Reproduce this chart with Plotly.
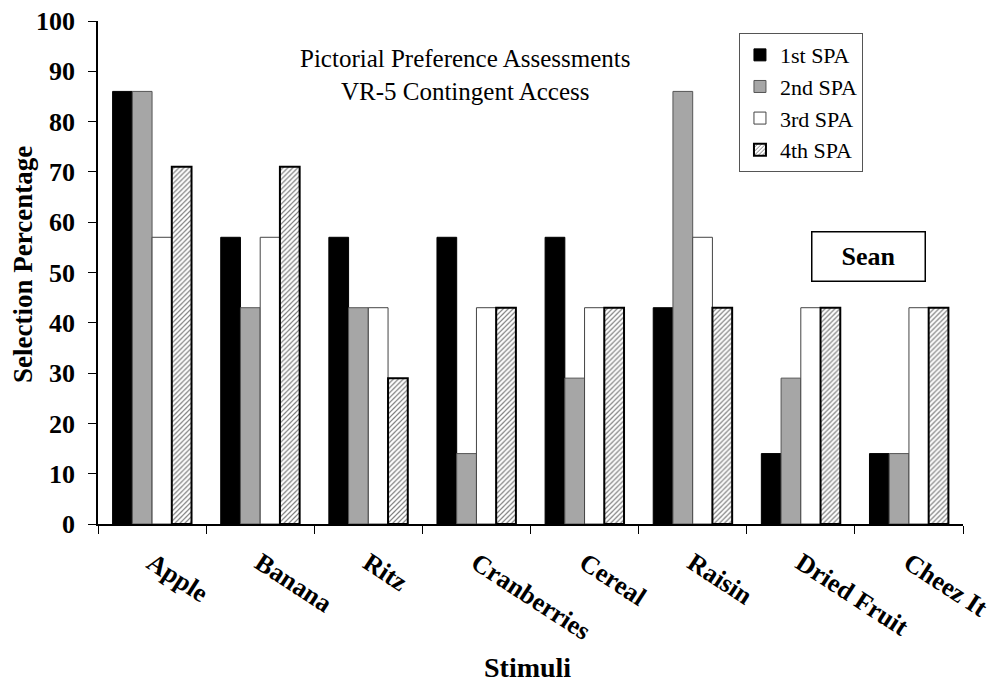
import plotly.graph_objects as go

categories = ["Apple", "Banana", "Ritz", "Cranberries", "Cereal", "Raisin", "Dried Fruit", "Cheez It"]
spa1 = [86, 57, 57, 57, 57, 43, 14, 14]
spa2 = [86, 43, 43, 14, 29, 86, 29, 14]
spa3 = [57, 57, 43, 43, 43, 57, 43, 43]
spa4 = [71, 71, 29, 43, 43, 43, 43, 43]
y_ticks = [0, 10, 20, 30, 40, 50, 60, 70, 80, 90, 100]

FONT = "Liberation Serif"

fig = go.Figure()
fig.add_trace(go.Bar(name="1st SPA", x=categories, y=spa1,
                     marker=dict(color="#000000", line=dict(color="#000000", width=1))))
fig.add_trace(go.Bar(name="2nd SPA", x=categories, y=spa2,
                     marker=dict(color="#a6a6a6", line=dict(color="#555555", width=1))))
fig.add_trace(go.Bar(name="3rd SPA", x=categories, y=spa3,
                     marker=dict(color="#ffffff", line=dict(color="#444444", width=1))))
fig.add_trace(go.Bar(name="4th SPA", x=categories, y=spa4,
                     marker=dict(color="#ffffff", line=dict(color="#000000", width=2),
                                 pattern=dict(shape="/", fgcolor="#000000", bgcolor="#ffffff",
                                              size=3.5, solidity=0.35))))

# page body has an 8px margin, so the figure is made 8px smaller and margins shifted
fig.update_layout(
    width=987, height=677,
    margin=dict(l=90, r=32, t=13, b=161, autoexpand=False),
    paper_bgcolor="white", plot_bgcolor="white",
    barmode="group", bargap=0.27, bargroupgap=0,
    font=dict(family=FONT, color="black"),
    showlegend=True,
    legend=dict(x=0.741, y=0.976, xanchor="left", yanchor="top",
                bordercolor="#555555", borderwidth=1, bgcolor="white",
                font=dict(family=FONT, size=22, color="black"),
                itemwidth=30),
    xaxis=dict(showline=True, linecolor="black", linewidth=1.5, automargin=False,
               ticks="outside", tickson="boundaries", ticklen=8, tickcolor="black",
               ticklabelstandoff=12, ticklabeloverflow="allow",
               tickangle=33, tickfont=dict(family=FONT, size=26, color="black", weight="bold"),
               showgrid=False, zeroline=False),
    yaxis=dict(range=[0, 100], tickvals=y_ticks, showline=True, linecolor="black", linewidth=1.5,
               automargin=False, ticks="outside", ticklen=8, tickcolor="black",
               ticklabelstandoff=8, ticklabeloverflow="allow",
               tickfont=dict(family=FONT, size=26, color="black", weight="bold"),
               showgrid=False, zeroline=False),
)

fig.add_annotation(text="Pictorial Preference Assessments<br>VR-5 Contingent Access",
                   xref="paper", yref="paper", x=0.424, y=0.893, xanchor="center", yanchor="middle",
                   showarrow=False, align="center", font=dict(family=FONT, size=25, color="black"))
fig.add_annotation(text="<b>Sean</b>", xref="paper", yref="paper", x=0.891, y=0.532,
                   xanchor="center", yanchor="middle",
                   showarrow=False, font=dict(family=FONT, size=26, color="black"),
                   bordercolor="black", borderwidth=1.5, borderpad=8, bgcolor="white",
                   width=96, height=32)
fig.add_annotation(text="<b>Selection Percentage</b>", xref="paper", yref="paper",
                   x=-0.0867, y=0.515, xanchor="center", yanchor="middle",
                   textangle=-90, showarrow=False,
                   font=dict(family=FONT, size=27, color="black"))
fig.add_annotation(text="<b>Stimuli</b>", xref="paper", yref="paper",
                   x=0.497, y=-0.286, showarrow=False, xanchor="center", yanchor="middle",
                   font=dict(family=FONT, size=28, color="black"))

fig.write_html("out.html")
